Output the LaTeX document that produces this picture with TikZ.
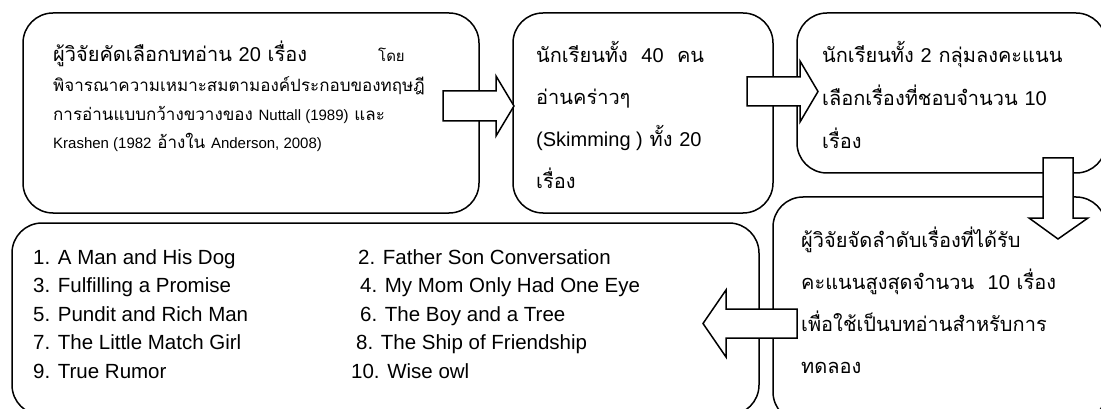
\documentclass[tikz,border=0pt]{standalone}
\usepackage{fontspec}
\setmainfont{Liberation Sans}
\newfontfamily\thaifont[Script=Thai]{Loma}
\newfontfamily\enfont{Liberation Sans}
\newcommand{\en}[1]{{\enfont #1}}
\usetikzlibrary{positioning}

\begin{document}
\begin{tikzpicture}[x=1pt,y=-1pt,
    stepbox/.style={draw, line width=1.5pt, rounded corners=30pt, inner sep=0pt},
    blockarrow/.style={draw, line width=1.5pt, fill=white, line join=miter},
    thline/.style={anchor=base west, inner sep=0pt, font=\thaifont\fontsize{20}{24}\selectfont},
    thsmall/.style={anchor=base west, inner sep=0pt, font=\thaifont\fontsize{17}{20}\selectfont},
    listline/.style={anchor=base west, inner sep=0pt, font=\enfont\fontsize{20.5}{24}\selectfont}]
\useasboundingbox (0,0) rectangle (1101,409);
\clip (0,0) rectangle (1101,409);
% boxes
\node[stepbox, minimum width=456pt, minimum height=200pt] (choose) at (251,113) {};
\node[stepbox, minimum width=260pt, minimum height=200pt] (skim) at (643,113) {};
\node[stepbox, minimum width=309pt, minimum height=160pt] (vote) at (951.5,93) {};
\node[stepbox, minimum width=333pt, minimum height=225pt] (rank) at (939.5,309.5) {};
\node[stepbox, minimum width=747pt, minimum height=192pt] (stories) at (385.5,319) {};
% 1st box
\node[thline] (choose1) at (53,62) {ผู้วิจัยคัดเลือกบทอ่าน \en{20} เรื่อง};
\node[thsmall, font=\thaifont\fontsize{15}{18}\selectfont] (choose1b) at (378,62) {โดย};
\node[thsmall] (choose2) at (53,92) {พิจารณาความเหมาะสมตามองค์ประกอบของทฤษฎี};
\node[thsmall] (choose3) at (53,121) {การอ่านแบบกว้างขวางของ \en{\fontsize{15}{18}\selectfont Nuttall (1989)} และ};
\node[thsmall] (choose4) at (53,149) {\en{\fontsize{15}{18}\selectfont Krashen (1982} อ้างใน \en{\fontsize{15}{18}\selectfont Anderson, 2008)}};
% 2nd box
\node[thline] (skim1) at (536,63) {นักเรียนทั้ง \ \en{40} \ คน};
\node[thline] (skim2) at (536,105) {อ่านคร่าวๆ};
\node[thline] (skim3) at (536,147) {\en{(Skimming )} ทั้ง \en{20}};
\node[thline] (skim4) at (536,189) {เรื่อง};
% 3rd box
\node[thline] (vote1) at (822,63) {นักเรียนทั้ง \en{2} กลุ่มลงคะแนน};
\node[thline] (vote2) at (822,106) {เลือกเรื่องที่ชอบจำนวน \en{10}};
\node[thline] (vote3) at (822,149) {เรื่อง};
% 4th box
\node[thline] (rank1) at (801,247) {ผู้วิจัยจัดลำดับเรื่องที่ได้รับ};
\node[thline] (rank2) at (801,289) {คะแนนสูงสุดจำนวน \ \en{10} เรื่อง};
\node[thline] (rank3) at (801,331) {เพื่อใช้เป็นบทอ่านสำหรับการ};
\node[thline] (rank4) at (801,373) {ทดลอง};
% list of stories
\node[listline] (s1) at (33,264) {1. A Man and His Dog};
\node[listline] (s3) at (33,292) {3. Fulfilling a Promise};
\node[listline] (s5) at (33,321) {5. Pundit and Rich Man};
\node[listline] (s7) at (33,349) {7. The Little Match Girl};
\node[listline] (s9) at (33,378) {9. True Rumor};
\node[listline] (s2) at (358,264) {2. Father Son Conversation};
\node[listline] (s4) at (360,292) {4. My Mom Only Had One Eye};
\node[listline] (s6) at (360,321) {6. The Boy and a Tree};
\node[listline] (s8) at (356,349) {8. The Ship of Friendship};
\node[listline] (s10) at (351,378) {10. Wise owl};
% block arrows
\draw[blockarrow] (443,91) -- (496,91) -- (496,76) -- (514,106) -- (496,136) -- (496,121) -- (443,121) -- cycle;
\draw[blockarrow] (747,77) -- (800,77) -- (800,61) -- (818,91.5) -- (800,122) -- (800,106) -- (747,106) -- cycle;
\draw[blockarrow] (1043,158) -- (1073,158) -- (1073,218) -- (1088,218) -- (1058,239) -- (1029,218) -- (1043,218) -- cycle;
\draw[blockarrow] (797,309) -- (797,338) -- (726,338) -- (726,357) -- (703,323.5) -- (726,290) -- (726,309) -- cycle;
\end{tikzpicture}
\end{document}
